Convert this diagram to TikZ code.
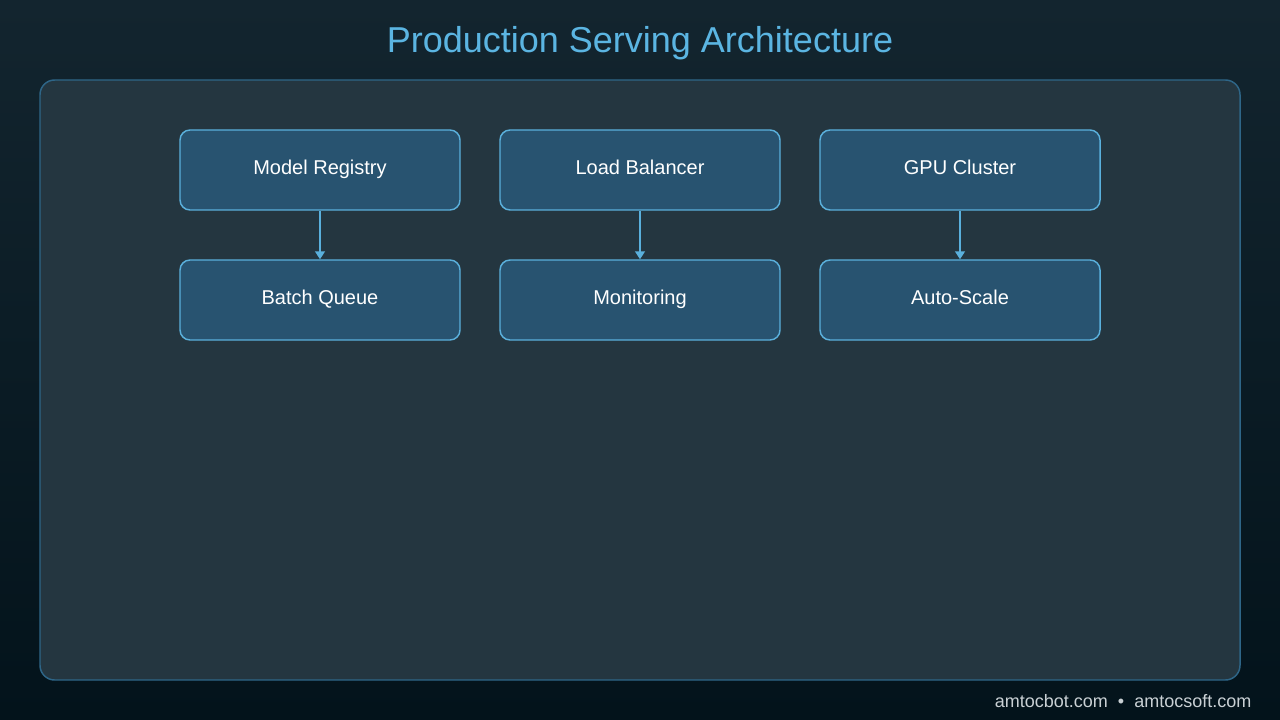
\documentclass[tikz,border=0pt]{standalone}
\usepackage{fontspec}
\setmainfont{Liberation Sans}
\usetikzlibrary{arrows.meta}

\definecolor{bgtop}{HTML}{13252F}
\definecolor{bgbot}{HTML}{03131B}
\definecolor{panelfill}{HTML}{243640}
\definecolor{panelline}{HTML}{2E6688}
\definecolor{boxfill}{HTML}{285370}
\definecolor{boxline}{HTML}{5AB0DC}
\definecolor{titleblue}{HTML}{5BB5E2}
\definecolor{footgray}{HTML}{C9D0D4}

\tikzset{
  stage/.style={draw=boxline, fill=boxfill, line width=1.1pt, rounded corners=7.5pt,
                minimum width=210pt, minimum height=60pt, text=white, text height=10pt, text depth=3.8pt,
                font=\fontsize{15}{18}\selectfont},
  flow/.style={draw=boxline, line width=1.1pt, -{Triangle[width=7.5pt,length=6pt]}}
}

\begin{document}
\begin{tikzpicture}[x=0.75pt, y=-0.75pt]
\useasboundingbox (0,0) rectangle (1280,720);
\shade[top color=bgtop, bottom color=bgbot] (0,0) rectangle (1280,720);
\draw[panelline, fill=panelfill, line width=1.1pt, rounded corners=11pt] (40,80) rectangle (1240,680);
\node[text=titleblue, font=\fontsize{27}{32}\selectfont] (title) at (640,43) {Production Serving Architecture};

\node[stage] (registry) at (320,170) {Model Registry};
\node[stage] (balancer) at (640,170) {Load Balancer};
\node[stage] (cluster) at (960,170) {GPU Cluster};
\node[stage] (queue) at (320,300) {Batch Queue};
\node[stage] (monitor) at (640,300) {Monitoring};
\node[stage] (scale) at (960,300) {Auto-Scale};

\draw[flow] (registry) -- (queue);
\draw[flow] (balancer) -- (monitor);
\draw[flow] (cluster) -- (scale);

\node[anchor=east, text=footgray, font=\fontsize{13.5}{16}\selectfont] (footer) at (1256,701) {amtocbot.com \ \textbullet\ \ amtocsoft.com};
\end{tikzpicture}
\end{document}
